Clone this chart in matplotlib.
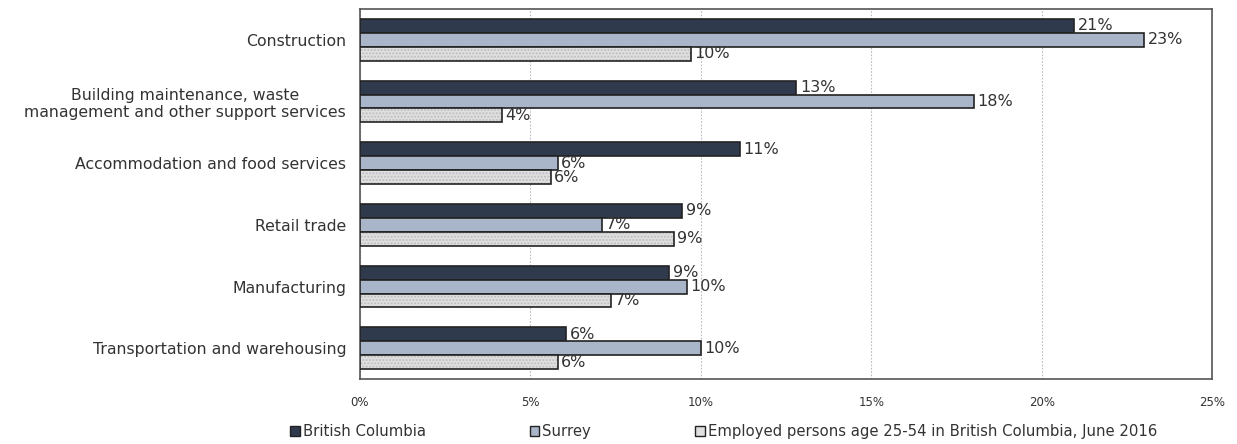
#!/usr/bin/env python3

# Imports

import numpy as np
import matplotlib
matplotlib.use("Agg")
import matplotlib.pyplot as plt
from matplotlib.patches import Patch

# Data

industries = [
    "Construction",
    "Building maintenance, waste\nmanagement and other support services",
    "Accommodation and food services",
    "Retail trade",
    "Manufacturing",
    "Transportation and warehousing",
]
series_names = [
    "British Columbia",
    "Surrey",
    "Employed persons age 25-54 in British Columbia, June 2016",
]
bc = [20.95, 12.8, 11.15, 9.45, 9.07, 6.05]
surrey = [23.0, 18.0, 5.8, 7.1, 9.6, 10.0]
employed = [9.7, 4.17, 5.6, 9.2, 7.36, 5.8]
x_ticks = [0, 5, 10, 15, 20, 25]

# Styles

face = ["#303a4d", "#a9b5c9", "#e0e0e0"]
edge = "#222222"
text_col = "#333333"

plt.rcParams["font.family"] = ["DejaVu Sans"]

fig = plt.figure(figsize=(12.37, 4.44), dpi=100)
ax = fig.add_axes([0.291, 0.146, 0.689, 0.834])

y = np.arange(len(industries))
h = 0.225
offsets = [-h, 0, h]

for k, vals in enumerate([bc, surrey, employed]):
    pos = y + offsets[k]
    if k == 2:
        # dotted fill first, then a plain outline on top
        ax.barh(pos, vals, height=h, color=face[k], edgecolor="#bdbdbd",
                hatch=".....", linewidth=0, zorder=3)
        ax.barh(pos, vals, height=h, fill=False, edgecolor=edge,
                linewidth=1.2, zorder=4)
    else:
        ax.barh(pos, vals, height=h, color=face[k], edgecolor=edge,
                linewidth=1.2, zorder=3)
    for p, v in zip(pos, vals):
        ax.annotate(f"{round(v)}%", (v, p), xytext=(2.5, 0),
                    textcoords="offset points", va="center", ha="left",
                    fontsize=11.5, color=text_col, zorder=5)

ax.set_xlim(0, 25)
ax.set_ylim(len(industries) - 0.5, -0.5)
ax.set_xticks(x_ticks)
ax.set_xticklabels([f"{t}%" for t in x_ticks], fontsize=8.5, color=text_col)
ax.set_yticks(y)
ax.set_yticklabels(industries, fontsize=11.3, color=text_col,
                   linespacing=1.2, multialignment="center")
ax.tick_params(axis="x", length=0, pad=12)
ax.tick_params(axis="y", length=0, pad=10)

ax.grid(axis="x", color="#bbbbbb", linestyle=(0, (1.5, 1.5)), linewidth=0.8,
        zorder=0)
for s in ax.spines.values():
    s.set_color("#555555")
    s.set_linewidth(1.2)

handles = [Patch(facecolor=face[i], edgecolor=edge, linewidth=1.0)
           for i in range(3)]
fig.legend(handles, series_names, loc="center", ncol=3,
           bbox_to_anchor=(0.585, 0.028), frameon=False, fontsize=10.7,
           handlelength=0.65, handleheight=0.65, handletextpad=0.2,
           columnspacing=7.0, labelcolor=text_col)

fig.savefig("out.png", dpi=100)
